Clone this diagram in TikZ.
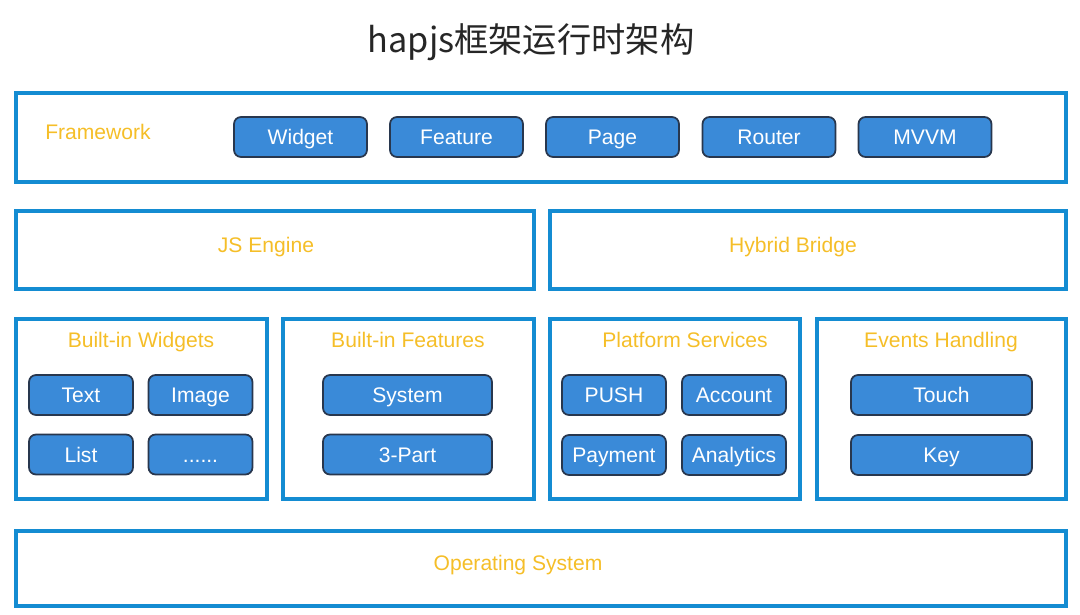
\documentclass[tikz,border=0pt]{standalone}
\usepackage{fontspec}
\setmainfont{Liberation Sans}
\newfontfamily\cjkfont{Noto Sans CJK SC}
\usepackage{tikz}
\definecolor{layerblue}{RGB}{20,140,210}
\definecolor{modfill}{RGB}{58,138,216}
\definecolor{modedge}{RGB}{40,55,78}
\definecolor{capyellow}{RGB}{245,190,40}
\tikzstyle{layer} = [draw=layerblue, line width=2.5pt]
\tikzstyle{module} = [rectangle, draw=modedge, fill=modfill, line width=1pt, rounded corners=4pt, text=white, font=\fontsize{12}{14}\selectfont, minimum height=0.8cm, text height=1.9ex, text depth=0.25ex, inner sep=0pt]
\tikzstyle{caption} = [text=capyellow, font=\fontsize{12}{14}\selectfont, text height=1.9ex, text depth=0.25ex]

\begin{document}
\begin{tikzpicture}[x=0.02cm, y=-0.02cm]
\useasboundingbox (0, 0) rectangle (1080, 615);

\node [font=\cjkfont\fontsize{19.5}{21}\selectfont, text=black!85] at (531, 42) (title) {hapjs框架运行时架构};

% framework
\draw [layer] (16, 93) rectangle (1066, 182);
\node [caption] at (98, 132) (framework) {Framework};
\node [module, minimum width=2.66cm] at (300.5, 137) (widget) {Widget};
\node [module, minimum width=2.66cm] at (456.5, 137) (feature) {Feature};
\node [module, minimum width=2.66cm] at (612.5, 137) (page) {Page};
\node [module, minimum width=2.66cm] at (769, 137) (router) {Router};
\node [module, minimum width=2.66cm] at (925, 137) (mvvm) {MVVM};

% engine, bridge
\draw [layer] (16, 211) rectangle (534, 289);
\node [caption] at (266, 245) (engine) {JS Engine};
\draw [layer] (550, 211) rectangle (1066, 289);
\node [caption] at (793, 245) (bridge) {Hybrid Bridge};

% built-in widgets
\draw [layer] (16, 319) rectangle (267, 499);
\node [caption] at (141, 340) (widgets) {Built-in Widgets};
\node [module, minimum width=2.08cm] at (81, 395) (text) {Text};
\node [module, minimum width=2.08cm] at (200.5, 395) (image) {Image};
\node [module, minimum width=2.08cm] at (81, 454.5) (list) {List};
\node [module, minimum width=2.08cm] at (200.5, 454.5) (more) {......};

% built-in features
\draw [layer] (283, 319) rectangle (534, 499);
\node [caption] at (408, 340) (features) {Built-in Features};
\node [module, minimum width=3.38cm] at (407.5, 395) (system) {System};
\node [module, minimum width=3.38cm] at (407.5, 454.5) (thirdpart) {3-Part};

% platform services
\draw [layer] (550, 319) rectangle (800, 499);
\node [caption] at (685, 340) (services) {Platform Services};
\node [module, minimum width=2.08cm] at (614, 395) (push) {PUSH};
\node [module, minimum width=2.08cm] at (734, 395) (account) {Account};
\node [module, minimum width=2.08cm] at (614, 455) (payment) {Payment};
\node [module, minimum width=2.08cm] at (734, 455) (analytics) {Analytics};

% events handling
\draw [layer] (817, 319) rectangle (1066, 499);
\node [caption] at (941, 340) (events) {Events Handling};
\node [module, minimum width=3.62cm] at (941.5, 395) (touch) {Touch};
\node [module, minimum width=3.62cm] at (941.5, 455) (key) {Key};

% os
\draw [layer] (16, 531) rectangle (1066, 606);
\node [caption] at (518, 563) (os) {Operating System};

\end{tikzpicture}
\end{document}
